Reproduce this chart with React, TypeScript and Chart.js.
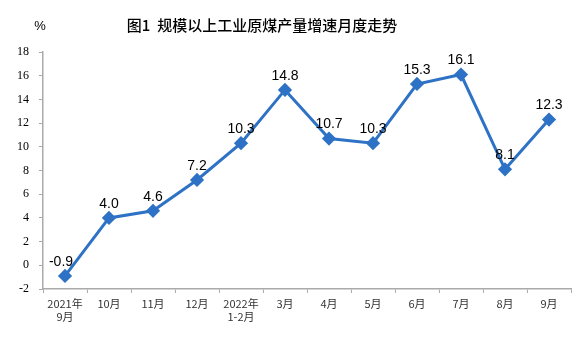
import React, { useEffect, useRef } from "react";
import { Chart, registerables } from "chart.js";

Chart.register(...registerables);

const categories: (string | string[])[] = [
  ["2021年", "9月"], "10月", "11月", "12月", ["2022年", "1-2月"], "3月", "4月", "5月", "6月", "7月", "8月", "9月",
];
const growth = [-0.9, 4.0, 4.6, 7.2, 10.3, 14.8, 10.7, 10.3, 15.3, 16.1, 8.1, 12.3];
const titleText = "图1  规模以上工业原煤产量增速月度走势";
const unitText = "%";

const labelPlugin = {
  id: "valueLabels",
  afterDatasetsDraw(chart: any) {
    const ctx = chart.ctx;
    const meta = chart.getDatasetMeta(0);
    ctx.save();
    ctx.font = "14px 'Liberation Sans', Arial, sans-serif";
    ctx.fillStyle = "#000";
    ctx.textAlign = "center";
    ctx.textBaseline = "bottom";
    meta.data.forEach((pt: any, i: number) => {
      const v = growth[i];
      const dx = i === 0 ? -4 : 0;
      ctx.fillText(v.toFixed(1), pt.x + dx, pt.y - 7);
    });
    ctx.restore();
  },
  afterDraw(chart: any) {
    const ctx = chart.ctx;
    ctx.save();
    ctx.fillStyle = "#000";
    ctx.textBaseline = "middle";
    ctx.textAlign = "center";
    ctx.font = "500 15px 'Noto Sans CJK SC', sans-serif";
    ctx.fillText(titleText, 262, 25);
    ctx.font = "13px 'Liberation Sans', Arial, sans-serif";
    ctx.fillText(unitText, 40, 26);
    ctx.restore();
  },
};

export default function App() {
  const ref = useRef<HTMLCanvasElement>(null);
  useEffect(() => {
    const chart = new Chart(ref.current!, {
      type: "line",
      data: {
        labels: categories,
        datasets: [
          {
            data: growth,
            borderColor: "#2E72C6",
            backgroundColor: "#2E72C6",
            borderWidth: 3,
            pointStyle: "rectRot",
            pointRadius: 5,
            pointHoverRadius: 5,
            tension: 0,
          },
        ],
      },
      options: {
        animation: false,
        responsive: false,
        layout: { padding: { top: 52, right: 5, left: 0, bottom: 0 } },
        plugins: { legend: { display: false }, tooltip: { enabled: false }, title: { display: false } },
        scales: {
          x: {
            offset: true,
            grid: { offset: true, drawOnChartArea: false, tickLength: 4, color: "#aaa" },
            border: { color: "#aaa", width: 1.5 },
            ticks: {
              color: "#333",
              font: { family: "'Noto Sans CJK SC', sans-serif", size: 11 },
              padding: 4,
              maxRotation: 0,
              autoSkip: false,
            },
            afterFit(scale: any) {
              scale.height = 75;
            },
          },
          y: {
            min: -2,
            max: 18,
            ticks: {
              stepSize: 2,
              color: "#000",
              font: { family: "'Liberation Serif', serif", size: 12 },
              padding: 10,
            },
            grid: { drawOnChartArea: false, tickLength: 4, color: "#aaa" },
            border: { color: "#aaa", width: 1.5 },
            afterFit(scale: any) {
              scale.width = 43;
            },
          },
        },
      },
      plugins: [labelPlugin],
    });
    return () => chart.destroy();
  }, []);
  return (
    <div style={{ position: "fixed", left: 0, top: 0, width: 579, height: 364, background: "#fff" }}>
      <canvas ref={ref} width={579} height={364} style={{ width: 579, height: 364 }} />
    </div>
  );
}
